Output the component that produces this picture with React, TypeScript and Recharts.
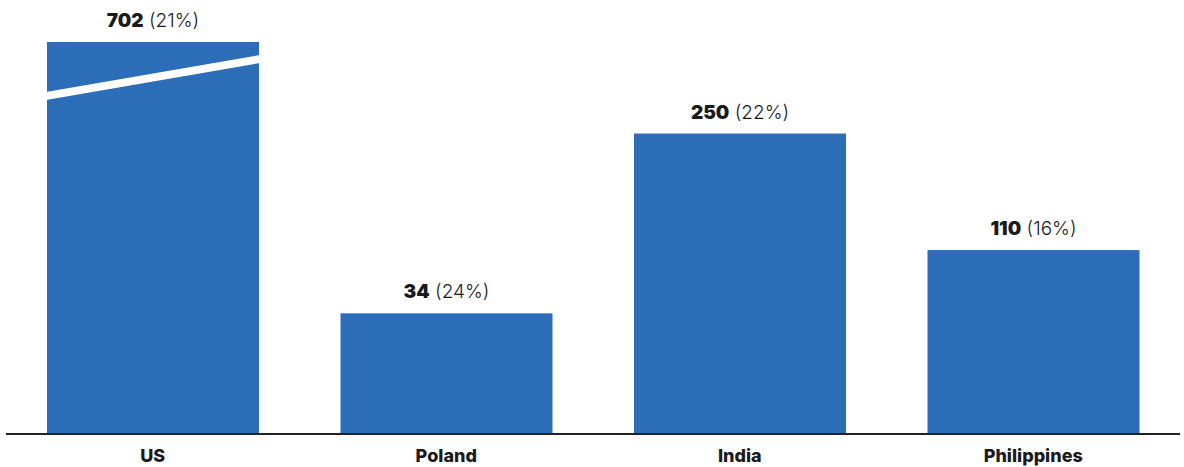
import React from "react";
import { BarChart, Bar, XAxis, YAxis, LabelList } from "recharts";

const categories = ["US", "Poland", "India", "Philippines"];
const counts = [702, 34, 250, 110];
const shares = [21, 24, 22, 16];

// axis range; US overflows and is drawn broken
const yDomain = [-111, 360];

const data = categories.map((name, i) => ({
  name,
  count: counts[i],
  share: shares[i],
}));

const BAR_COLOR = "#2b6eb7";
const TEXT_COLOR = "#1a1a1a";
const FONT = "Inter, 'Noto Sans', sans-serif";
const CHART_W = 1184;
const CHART_H = 467;
const MARGIN = { top: 42, right: 4, bottom: 0, left: 6 };
const AXIS_H = 33;
const PLOT_TOP = MARGIN.top;
const PLOT_BOTTOM = CHART_H - MARGIN.bottom - AXIS_H;

const BrokenBar = (props: any) => {
  const { x, y, width, payload } = props;
  const top = Math.max(y, PLOT_TOP);
  const overflow = payload.count > yDomain[1];
  return (
    <g>
      <rect x={x} y={top} width={width} height={PLOT_BOTTOM - top} fill={BAR_COLOR} />
      {overflow && (
        <polygon
          points={`${x - 1},${top + 50} ${x + width + 1},${top + 13} ${x + width + 1},${top + 21} ${x - 1},${top + 58}`}
          fill="#ffffff"
        />
      )}
    </g>
  );
};

const ValueLabel = (props: any) => {
  const { x, y, width, index } = props;
  const top = Math.max(y, PLOT_TOP);
  return (
    <text
      x={x + width / 2}
      y={top - 15}
      textAnchor="middle"
      fontFamily={FONT}
      fontSize={19}
      fill={TEXT_COLOR}
    >
      <tspan fontWeight={900}>{counts[index]}</tspan>
      <tspan fontWeight={300}> ({shares[index]}%)</tspan>
    </text>
  );
};

const CategoryTick = (props: any) => {
  const { x, y, payload } = props;
  return (
    <text
      x={x}
      y={y + 20}
      textAnchor="middle"
      fontFamily={FONT}
      fontWeight={800}
      fontSize={18}
      fill={TEXT_COLOR}
    >
      {payload.value}
    </text>
  );
};

export default function App() {
  return (
    <div style={{ position: "absolute", left: 0, top: 0, background: "#fff" }}>
      <BarChart width={CHART_W} height={CHART_H} data={data} margin={MARGIN}>
        <XAxis
          dataKey="name"
          height={AXIS_H}
          tickLine={false}
          axisLine={{ stroke: "#222", strokeWidth: 2 }}
          tick={<CategoryTick />}
          interval={0}
        />
        <YAxis hide domain={yDomain} allowDataOverflow />
        <Bar
          dataKey="count"
          barSize={212}
          shape={<BrokenBar />}
          isAnimationActive={false}
        >
          <LabelList dataKey="count" content={<ValueLabel />} />
        </Bar>
      </BarChart>
    </div>
  );
}
